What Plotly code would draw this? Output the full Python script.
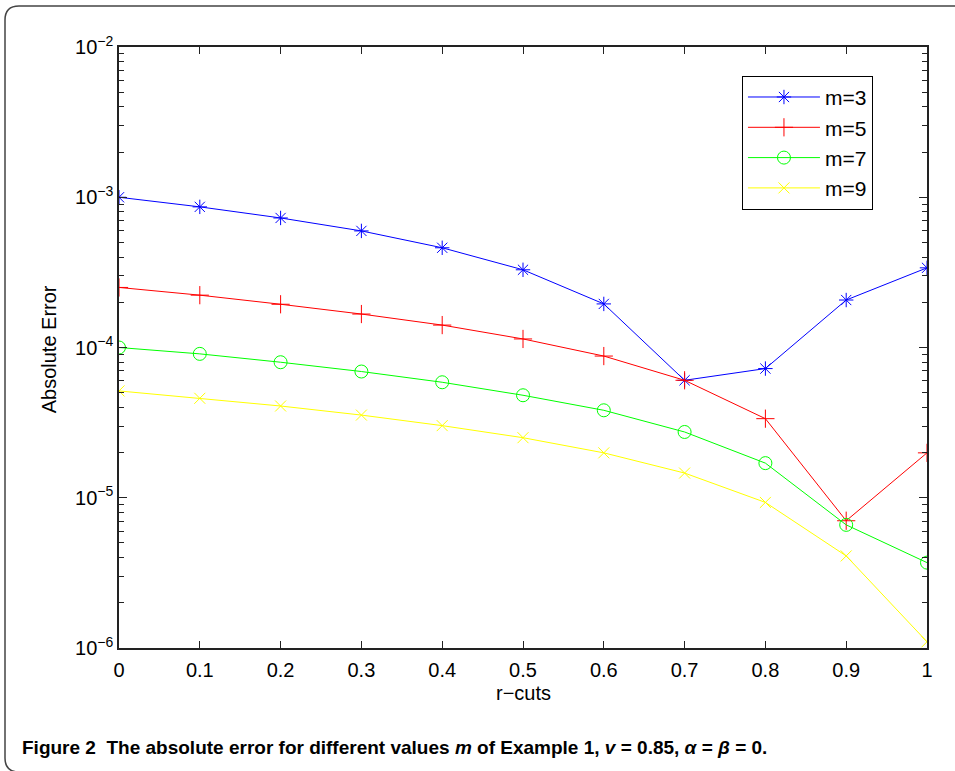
import plotly.graph_objects as go

r_cuts = [0, 0.1, 0.2, 0.3, 0.4, 0.5, 0.6, 0.7, 0.8, 0.9, 1.0]
err_m3 = [1.0e-3, 8.63e-4, 7.28e-4, 5.97e-4, 4.61e-4, 3.29e-4, 1.95e-4, 6.05e-5, 7.24e-5, 2.07e-4, 3.39e-4]
err_m5 = [2.51e-4, 2.23e-4, 1.94e-4, 1.67e-4, 1.41e-4, 1.14e-4, 8.77e-5, 6.05e-5, 3.36e-5, 7.03e-6, 1.99e-5]
err_m7 = [1.0e-4, 9.07e-5, 7.98e-5, 6.92e-5, 5.87e-5, 4.81e-5, 3.82e-5, 2.74e-5, 1.70e-5, 6.6e-6, 3.70e-6]
err_m9 = [5.14e-5, 4.59e-5, 4.08e-5, 3.55e-5, 3.02e-5, 2.51e-5, 1.99e-5, 1.46e-5, 9.31e-6, 4.10e-6, 1.10e-6]

series_names = ["m=3", "m=5", "m=7", "m=9"]
x_ticks = [0, 0.1, 0.2, 0.3, 0.4, 0.5, 0.6, 0.7, 0.8, 0.9, 1]
x_ticktext = ["0", "0.1", "0.2", "0.3", "0.4", "0.5", "0.6", "0.7", "0.8", "0.9", "1"]
y_ticks = [1e-6, 1e-5, 1e-4, 1e-3, 1e-2]
y_ticktext = ["10<sup>\u22126</sup>", "10<sup>\u22125</sup>", "10<sup>\u22124</sup>", "10<sup>\u22123</sup>", "10<sup>\u22122</sup>"]

styles = [
    ("#0000ff", "asterisk-open", 12),
    ("#ff0000", "cross-thin-open", 13),
    ("#00ff00", "circle-open", 13),
    ("#ffff00", "x-thin-open", 11),
]

fig = go.Figure()
for name, ys, (col, sym, sz) in zip(series_names, [err_m3, err_m5, err_m7, err_m9], styles):
    fig.add_trace(go.Scatter(
        x=r_cuts, y=ys, mode="lines+markers", name=name,
        line=dict(color=col, width=1),
        marker=dict(symbol=sym, size=sz, color=col, line=dict(color=col, width=1)),
    ))

minor_vals = [m * 10 ** e for e in range(-6, -2) for m in range(2, 10)]

font_main = "Liberation Sans, Arial, Helvetica, sans-serif"

fig.update_layout(
    width=955, height=771,
    margin=dict(l=119, r=28, t=47, b=123),
    paper_bgcolor="white", plot_bgcolor="white",
    font=dict(family=font_main, size=20, color="black"),
    showlegend=True,
    legend=dict(
        x=0.771, y=0.952, xanchor="left", yanchor="top",
        bgcolor="white", bordercolor="black", borderwidth=1,
        font=dict(size=21, family=font_main),
        itemwidth=72,
    ),
    xaxis=dict(
        range=[0, 1], tickvals=x_ticks, ticktext=x_ticktext,
        ticks="inside", ticklen=7, tickwidth=1, tickcolor="#222",
        showline=True, linecolor="#222", linewidth=1.5, mirror="allticks",
        showgrid=False, zeroline=False,
        tickfont=dict(size=20), ticklabelstandoff=3,
    ),
    yaxis=dict(
        type="log", range=[-6, -2], tickvals=y_ticks, ticktext=y_ticktext,
        ticks="inside", ticklen=8, tickwidth=1, tickcolor="#222",
        showline=True, linecolor="#222", linewidth=1.5, mirror="allticks",
        showgrid=False, zeroline=False,
        tickfont=dict(size=20),
        minor=dict(tickvals=minor_vals, ticks="inside", ticklen=5, tickcolor="#222", showgrid=False),
    ),
    annotations=[
        dict(text="Absolute Error", xref="paper", yref="paper", x=-0.0866, y=0.497,
             textangle=-90, showarrow=False, font=dict(size=20), xanchor="center", yanchor="middle"),
        dict(text="r\u2212cuts", xref="paper", yref="paper", x=0.501, y=-0.075,
             showarrow=False, font=dict(size=20), xanchor="center", yanchor="middle"),
        dict(text="<b>Figure 2  The absolute error for different values <i>m</i> of Example 1, <i>v</i> = 0.85, <i>\u03b1</i> = <i>\u03b2</i> = 0.</b>",
             xref="paper", yref="paper", x=-0.1225, y=-0.165, xanchor="left", yanchor="middle",
             showarrow=False, font=dict(size=19, family=font_main, color="black"),
             ),
    ],
)

# rounded frame around the figure (paper coordinates)
def px(xp):
    return (xp - 119) / 808.0
def py(yp):
    return (648 - yp) / 601.0

r = 14
L, T, R, B = 5, 6, 975, 772
path = (
    f"M {px(R)},{py(T)} L {px(L + r)},{py(T)} Q {px(L)},{py(T)} {px(L)},{py(T + r)} "
    f"L {px(L)},{py(B - r)} Q {px(L)},{py(B)} {px(L + r)},{py(B)} L {px(R)},{py(B)}"
)
fig.add_shape(type="path", path=path, xref="paper", yref="paper",
              line=dict(color="#444", width=1.5), layer="below")

fig.write_html("out.html")
